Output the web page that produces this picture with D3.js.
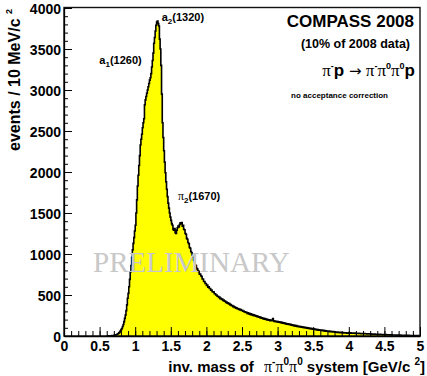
<!DOCTYPE html>
<html>
<head>
<meta charset="utf-8">
<script src="https://cdnjs.cloudflare.com/ajax/libs/d3/7.8.5/d3.min.js"></script>
<style>
body { margin: 0; background: #fff; }
svg { display: block; }
text { font-family: "Liberation Sans", Arial, sans-serif; font-weight: bold; fill: #000; }
.sym { font-family: "Liberation Serif", "Times New Roman", serif; font-weight: normal; }
.arr { font-family: "DejaVu Sans", sans-serif; font-weight: normal; }
</style>
</head>
<body>
<div id="chart"></div>
<script>
// events per 10 MeV bin, first bin starts at 0.6 GeV (below that: empty)
var firstBin = 0.6, binWidth = 0.01;
var counts = [
    0, 0, 1, 1, 2, 3, 3, 4, 5, 7,
    9, 10, 12, 15, 18, 24, 30, 38, 48, 62,
    78, 92, 115, 140, 175, 215, 255, 310, 380, 460,
    520, 600, 690, 780, 860, 960, 1050, 1130, 1200, 1280,
    1350, 1500, 1660, 1830, 1960, 2080, 2200, 2330, 2400, 2460,
    2540, 2600, 2650, 2820, 2880, 2920, 2960, 3000, 3040, 3080,
    3120, 3150, 3200, 3280, 3360, 3450, 3570, 3640, 3720, 3790,
    3830, 3840, 3810, 3780, 3620, 3500, 3300, 2950, 2600, 2420,
    2260, 2120, 1990, 1880, 1790, 1700, 1620, 1560, 1500, 1450,
    1410, 1370, 1350, 1300, 1290, 1310, 1260, 1250, 1290, 1320,
    1340, 1330, 1360, 1380, 1370, 1385, 1340, 1350, 1300, 1295,
    1250, 1240, 1190, 1180, 1140, 1125, 1080, 1070, 1030, 1015,
    985, 965, 925, 905, 865, 860, 825, 815, 795, 785,
    755, 755, 735, 725, 695, 695, 665, 665, 640, 640,
    615, 620, 595, 600, 580, 580, 560, 560, 540, 540,
    535, 515, 515, 500, 500, 485, 485, 470, 475, 455,
    460, 445, 450, 435, 437, 425, 425, 410, 415, 400,
    405, 390, 395, 380, 385, 370, 372, 358, 362, 348,
    352, 340, 345, 332, 336, 325, 330, 318, 324, 312,
    314, 302, 305, 292, 296, 286, 290, 276, 282, 270,
    276, 264, 270, 258, 264, 252, 258, 248, 252, 240,
    246, 234, 240, 228, 233, 222, 228, 216, 222, 210,
    216, 206, 212, 201, 206, 196, 202, 192, 198, 188,
    194, 186, 190, 214, 186, 178, 183, 174, 180, 170,
    176, 168, 173, 164, 170, 160, 166, 156, 162, 152,
    157, 148, 153, 144, 150, 140, 146, 137, 142, 133,
    138, 128, 134, 124, 130, 121, 126, 117, 122, 114,
    119, 110, 116, 107, 112, 104, 109, 101, 106, 98,
    102, 94, 99, 91, 96, 88, 93, 86, 90, 83,
    88, 80, 85, 78, 82, 75, 80, 72, 77, 70,
    74, 67, 72, 64, 69, 62, 66, 60, 64, 58,
    61, 55, 59, 53, 57, 51, 55, 50, 53, 48,
    51, 46, 49, 44, 47, 43, 45, 41, 44, 40,
    42, 38, 41, 37, 40, 36, 38, 35, 37, 34,
    39, 36, 38, 35, 37, 34, 36, 33, 35, 32,
    34, 31, 33, 30, 32, 30, 31, 29, 30, 28,
    30, 27, 29, 27, 28, 26, 27, 25, 26, 24,
    26, 23, 25, 22, 24, 22, 23, 21, 22, 20,
    22, 19, 21, 19, 20, 18, 19, 17, 18, 16,
    18, 16, 17, 15, 16, 14, 15, 14, 15, 13,
    14, 12, 13, 12, 13, 11, 12, 11, 11, 10,
    11, 10, 11, 9, 10, 9, 9, 8, 9, 8,
    8, 7, 8, 7, 8, 6, 7, 6, 7, 6,
    6, 5, 6, 5, 6, 5, 5, 4, 5, 4
];

var xMajor = [0, 0.5, 1, 1.5, 2, 2.5, 3, 3.5, 4, 4.5, 5];
var xLabels = ["0", "0.5", "1", "1.5", "2", "2.5", "3", "3.5", "4", "4.5", "5"];
var yMajor = [0, 500, 1000, 1500, 2000, 2500, 3000, 3500, 4000];
var yLabels = ["0", "500", "1000", "1500", "2000", "2500", "3000", "3500", "4000"];

var width = 427, height = 376;

var x = d3.scaleLinear().domain([0, 5]).range([64, 420]);
var y = d3.scaleLinear().domain([0, 4000]).range([336, 8]);

var svg = d3.select("#chart").append("svg")
    .attr("width", width)
    .attr("height", height);

// step points of the histogram
var pts = counts.map(function(c, i) { return [firstBin + i * binWidth, c]; });
pts.push([firstBin + counts.length * binWidth, counts[counts.length - 1]]);

var area = d3.area()
    .curve(d3.curveStepAfter)
    .x(function(d) { return x(d[0]); })
    .y0(y(0))
    .y1(function(d) { return y(d[1]); });

var line = d3.line()
    .curve(d3.curveStepAfter)
    .x(function(d) { return x(d[0]); })
    .y(function(d) { return y(d[1]); });

svg.append("path")
    .datum(pts)
    .attr("d", area)
    .attr("fill", "#ffff00");

svg.append("path")
    .datum([[firstBin, 0]].concat(pts).concat([[5, 0]]))
    .attr("d", line)
    .attr("fill", "none")
    .attr("stroke", "#000")
    .attr("stroke-width", 1.6)
    .attr("stroke-linejoin", "miter");

// frame
svg.append("rect")
    .attr("x", 64).attr("y", 7.5)
    .attr("width", 356).attr("height", 328.5)
    .attr("fill", "none")
    .attr("stroke", "#111")
    .attr("stroke-width", 1.4);

// axes
var xMinor = d3.range(0, 51).map(function(i) { return i / 10; });
var yMinor = d3.range(0, 41).map(function(i) { return i * 100; });

svg.append("g")
    .attr("transform", "translate(0,336)")
    .call(d3.axisBottom(x).tickValues(xMinor).tickSizeInner(-5).tickSizeOuter(0).tickFormat(""))
    .call(function(g) { g.select(".domain").remove(); });

svg.append("g")
    .attr("transform", "translate(0,336)")
    .call(d3.axisBottom(x).tickValues(xMajor).tickSizeInner(-9).tickSizeOuter(0).tickPadding(5)
        .tickFormat(function(d, i) { return xLabels[i]; }))
    .call(function(g) {
        g.select(".domain").attr("stroke-width", 1.3);
        g.selectAll("text").attr("font-size", 14).attr("font-family", null);
    });

svg.append("g")
    .attr("transform", "translate(64,0)")
    .call(d3.axisLeft(y).tickValues(yMinor).tickSizeInner(-4).tickSizeOuter(0).tickFormat(""))
    .call(function(g) { g.select(".domain").remove(); });

svg.append("g")
    .attr("transform", "translate(64,0)")
    .call(d3.axisLeft(y).tickValues(yMajor).tickSizeInner(-8).tickSizeOuter(0).tickPadding(3)
        .tickFormat(function(d, i) { return yLabels[i]; }))
    .call(function(g) {
        g.select(".domain").attr("stroke-width", 1.3);
        g.selectAll("text").attr("font-size", 14).attr("font-family", null).attr("dy", "0.36em");
    });

// axis titles
var yt = svg.append("text")
    .attr("transform", "translate(20,9) rotate(-90)")
    .attr("text-anchor", "end")
    .attr("font-size", 16);
yt.append("tspan").text("events / 10 MeV/c ");
yt.append("tspan").attr("dy", -8).attr("font-size", 9).text("2");

var xt = svg.append("text")
    .attr("x", 425).attr("y", 372)
    .attr("text-anchor", "end")
    .attr("font-size", 15);
xt.append("tspan").text("inv. mass of  ");
xt.append("tspan").attr("dx", 6).attr("class", "sym").attr("font-size", 16).text("\u03c0");
xt.append("tspan").attr("dy", -7).attr("font-size", 10).text("-");
xt.append("tspan").attr("dy", 7).attr("class", "sym").attr("font-size", 16).text("\u03c0");
xt.append("tspan").attr("dy", -7).attr("font-size", 10).text("0");
xt.append("tspan").attr("dy", 7).attr("class", "sym").attr("font-size", 16).text("\u03c0");
xt.append("tspan").attr("dy", -7).attr("font-size", 10).text("0");
xt.append("tspan").attr("dy", 7).text(" system [GeV/c ");
xt.append("tspan").attr("dy", -7).attr("font-size", 10).text("2");
xt.append("tspan").attr("dy", 7).text("]");

// header texts
svg.append("text")
    .attr("x", 414).attr("y", 27)
    .attr("text-anchor", "end")
    .attr("font-size", 17)
    .text("COMPASS 2008");

svg.append("text")
    .attr("x", 410).attr("y", 48)
    .attr("text-anchor", "end")
    .attr("font-size", 12.5)
    .text("(10% of 2008 data)");

var rx = svg.append("text")
    .attr("x", 415).attr("y", 76)
    .attr("text-anchor", "end")
    .attr("font-size", 17);
rx.append("tspan").attr("class", "sym").text("\u03c0");
rx.append("tspan").attr("dy", -7).attr("font-size", 9).text("-");
rx.append("tspan").attr("dy", 7).text("p ");
rx.append("tspan").attr("class", "arr").attr("font-size", 15).text("\u2192");
rx.append("tspan").attr("class", "sym").text(" \u03c0");
rx.append("tspan").attr("dy", -7).attr("font-size", 9).text("-");
rx.append("tspan").attr("dy", 7).attr("class", "sym").text("\u03c0");
rx.append("tspan").attr("dy", -7).attr("font-size", 9).text("0");
rx.append("tspan").attr("dy", 7).attr("class", "sym").text("\u03c0");
rx.append("tspan").attr("dy", -7).attr("font-size", 9).text("0");
rx.append("tspan").attr("dy", 7).text("p");

svg.append("text")
    .attr("x", 388).attr("y", 98)
    .attr("text-anchor", "end")
    .attr("font-size", 8)
    .text("no acceptance correction");

// resonance labels
function resLabel(xv, yv, sym, sub, mass) {
    var t = svg.append("text")
        .attr("x", x(xv)).attr("y", y(yv))
        .attr("font-size", 11);
    if (sym) t.append("tspan").attr("class", "sym").attr("font-size", 12).text("\u03c0");
    else t.append("tspan").text("a");
    t.append("tspan").attr("dy", 3).attr("font-size", 8).text(sub);
    t.append("tspan").attr("dy", -3).text("(" + mass + ")");
}
resLabel(0.496, 3317, false, "1", "1260");
resLabel(1.372, 3841, false, "2", "1320");
resLabel(1.60, 1659, true, "2", "1670");

// watermark
svg.append("text")
    .attr("x", 93).attr("y", 272)
    .attr("font-size", 29)
    .style("font-family", "'Liberation Serif', serif")
    .style("font-weight", "normal")
    .style("fill", "#c8c8c8")
    .text("PRELIMINARY");
</script>
</body>
</html>
